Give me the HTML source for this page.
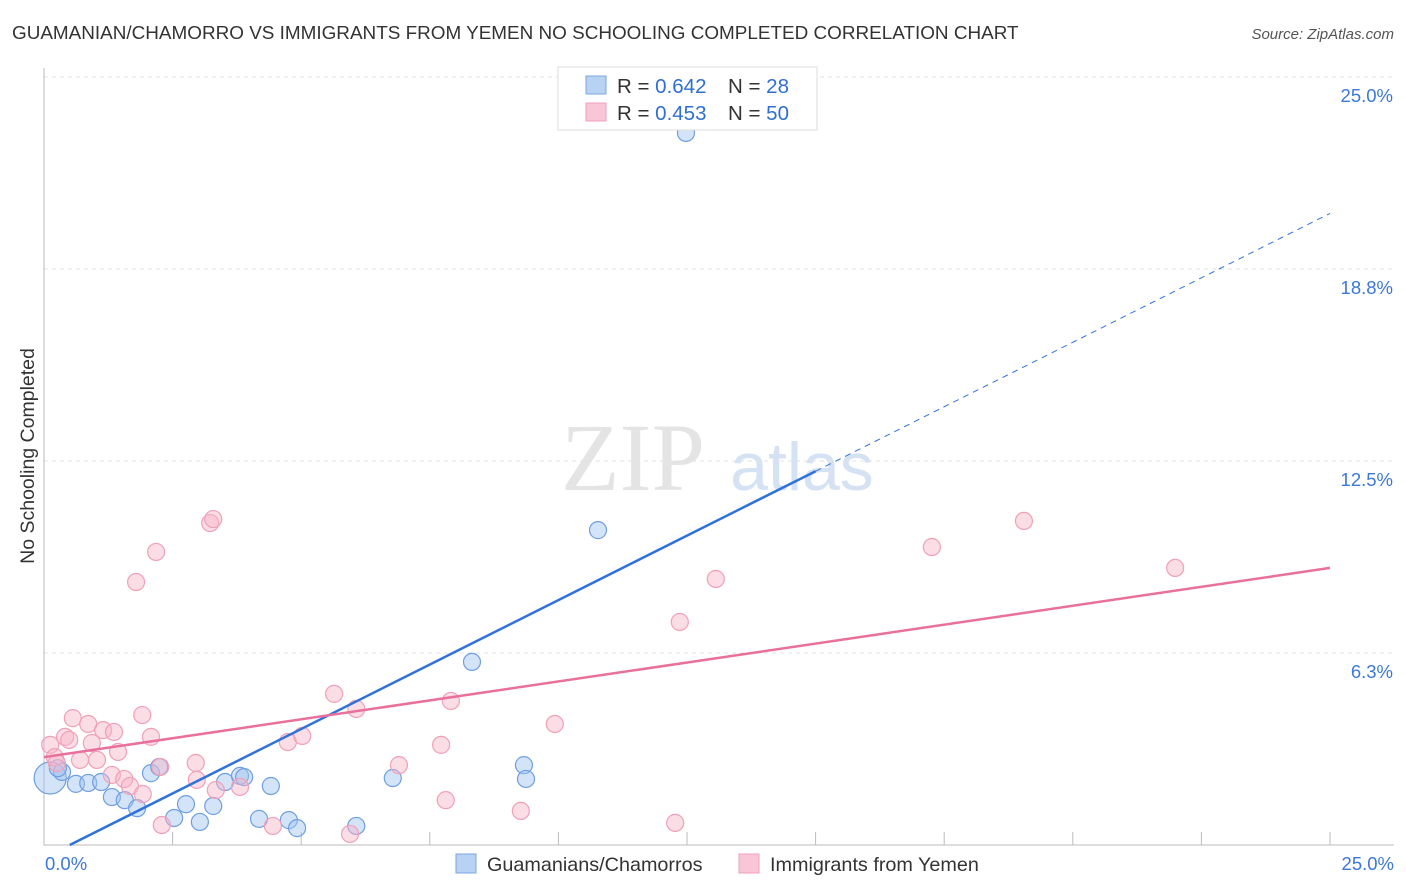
<!DOCTYPE html>
<html><head><meta charset="utf-8"><style>
body{margin:0;background:#fff;font-family:"Liberation Sans",sans-serif;}
svg{display:block}
</style></head><body>
<svg id="c" width="1406" height="892" xmlns="http://www.w3.org/2000/svg">
<text x="12" y="39" font-size="18.9" fill="#333">GUAMANIAN/CHAMORRO VS IMMIGRANTS FROM YEMEN NO SCHOOLING COMPLETED CORRELATION CHART</text>
<text x="1394" y="39" font-size="15" fill="#555" font-style="italic" text-anchor="end">Source: ZipAtlas.com</text>
<g>
<text x="633" y="490" font-size="96" fill="#e4e4e4" font-family="Liberation Serif,serif" text-anchor="middle">ZIP</text>
<text x="802" y="490" font-size="68" fill="#d4e2f4" text-anchor="middle">atlas</text>
</g>
<g id="grid"></g>
<g id="axes"></g>
<g id="marks"></g>
<text transform="translate(34,456) rotate(-90)" font-size="19.5" fill="#333" text-anchor="middle">No Schooling Completed</text>
<g>
<rect x="558" y="67" width="259" height="63" fill="#fff" stroke="#ddd"/>
<rect x="586" y="76" width="20" height="18" fill="#b8d2f4" stroke="#7aa6e0"/>
<rect x="586" y="103" width="20" height="18" fill="#f8c6d6" stroke="#f0a0b8"/>
<text x="617" y="93" font-size="20.5" fill="#333">R = <tspan fill="#2f6fd0">0.642</tspan><tspan x="728">N = </tspan><tspan fill="#2f6fd0">28</tspan></text>
<text x="617" y="120" font-size="20.5" fill="#333">R = <tspan fill="#2f6fd0">0.453</tspan><tspan x="728">N = </tspan><tspan fill="#2f6fd0">50</tspan></text>
</g>
<g>
<rect x="456" y="854" width="20" height="19" fill="#b8d2f4" stroke="#7aa6e0"/>
<text x="487" y="871" font-size="19.8" fill="#333">Guamanians/Chamorros</text>
<rect x="739" y="854" width="20" height="19" fill="#f8c6d6" stroke="#f0a0b8"/>
<text x="770" y="871" font-size="19.8" fill="#333">Immigrants from Yemen</text>
</g>
</svg>
<script>
const yTicks=[25,18.75,12.5,6.25];
const yTickLabels=["25.0%","18.8%","12.5%","6.3%"];
const xTickLabels=["0.0%","25.0%"];
const blueX=[0.12,0.35,0.27,0.62,0.86,1.11,1.32,1.57,1.81,2.08,2.24,2.53,2.76,3.03,3.29,3.52,3.81,3.89,4.41,4.18,4.76,4.92,6.07,6.78,8.32,9.33,9.37,10.77,12.48];
const blueY=[2.18,2.38,2.5,1.99,2.02,2.05,1.56,1.46,1.2,2.34,2.54,0.88,1.33,0.75,1.27,2.05,2.25,2.21,1.92,0.85,0.81,0.55,0.62,2.18,5.96,2.6,2.15,10.25,23.18];
const pinkX=[0.12,0.21,0.25,0.41,0.49,0.56,0.70,0.86,0.93,1.03,1.15,1.36,1.44,1.32,1.56,1.67,1.79,1.91,1.92,2.08,2.18,2.26,2.29,2.95,2.97,3.23,3.29,3.34,3.81,4.45,4.74,5.02,5.64,5.95,6.07,6.90,7.72,7.81,7.91,9.27,9.93,12.27,12.36,13.06,17.26,19.05,21.99];
const pinkY=[3.26,2.86,2.67,3.52,3.42,4.13,2.77,3.94,3.32,2.77,3.74,3.68,3.03,2.28,2.15,1.92,8.56,4.23,1.66,3.52,9.54,2.54,0.65,2.67,2.12,10.48,10.61,1.79,1.89,0.62,3.35,3.55,4.92,0.36,4.43,2.60,3.26,1.46,4.69,1.11,3.94,0.72,7.26,8.66,9.70,10.55,9.02];
const blueLine=[-0.42,20.56]; // y at x=0 and x=25
const blueSolidEnd=15;
const pinkLine=[2.86,9.02];
const NS="http://www.w3.org/2000/svg";
const X=v=>44+v*51.44, Y=v=>845-v*30.72;
function mk(t,a,p){const e=document.createElementNS(NS,t);for(const k in a)e.setAttribute(k,a[k]);document.getElementById(p).appendChild(e);return e;}
yTicks.forEach((t,i)=>{
 const l=mk('line',{x1:44,x2:1394,y1:Y(t),y2:Y(t),stroke:'#e2e2e2','stroke-dasharray':'4,4'},'grid');
 
 
 const tx=mk('text',{x:1393,y:Y(t)+25,'font-size':18.5,fill:'#3c78d8','text-anchor':'end'},'axes');
 tx.textContent=yTickLabels[i];
 
 
});
const ax=mk('path',{d:'M44 68V845H1394',stroke:'#bbb',fill:'none'},'axes');


for(let i=0;i<=10;i++){const t=mk('line',{x1:X(i*2.5),x2:X(i*2.5),y1:845,y2:832,stroke:'#bbb'},'axes');
 
 }
xTickLabels.forEach((s,i)=>{const t=mk('text',{x:i?1394:45,y:870,'font-size':18.5,fill:'#3c78d8','text-anchor':i?'end':'start'},'axes');t.textContent=s;
 
 });
blueX.forEach((x,i)=>{const c=mk('circle',{cx:X(x),cy:Y(blueY[i]),r:i==0?16:8.5,fill:'rgba(160,195,240,0.45)',stroke:'#6f9fe0','stroke-width':1.2},'marks');
 
 });
pinkX.forEach((x,i)=>{const c=mk('circle',{cx:X(x),cy:Y(pinkY[i]),r:8.5,fill:'rgba(246,180,200,0.45)',stroke:'#f0a0b8','stroke-width':1.2},'marks');
 
 });
const by=x=>blueLine[0]+(blueLine[1]-blueLine[0])*x/25;
const bx0=Math.max(0,-blueLine[0]*25/(blueLine[1]-blueLine[0]));
const bl=mk('line',{x1:X(bx0),y1:Y(by(bx0)),x2:X(blueSolidEnd),y2:Y(by(blueSolidEnd)),stroke:'#2f72d8','stroke-width':2.5},'marks');


const bd=mk('line',{x1:X(blueSolidEnd),y1:Y(by(blueSolidEnd)),x2:X(25),y2:Y(by(25)),stroke:'#2f72d8','stroke-width':1,'stroke-dasharray':'6,5'},'marks');


const pl=mk('line',{x1:X(0),y1:Y(pinkLine[0]),x2:X(25),y2:Y(pinkLine[1]),stroke:'#e8709a','stroke-width':2.5},'marks');


</script>
</body></html>
